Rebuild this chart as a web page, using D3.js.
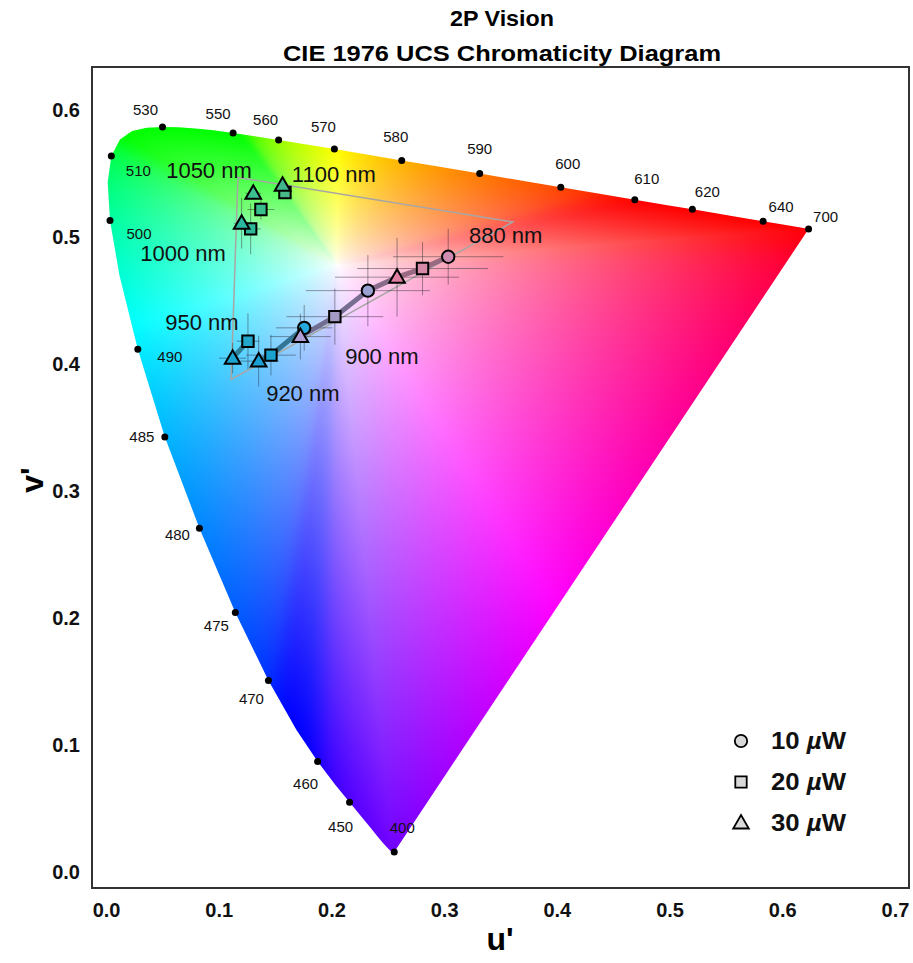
<!DOCTYPE html>
<html><head><meta charset="utf-8">
<script src="https://cdn.jsdelivr.net/npm/d3@7"></script>
<style>
body{margin:0;background:#fff;}
svg{display:block;font-family:"Liberation Sans",Arial,Helvetica,sans-serif;}
</style>
</head><body>
<svg id="chart" width="913" height="963"></svg>
<script>
// ---------- CIE 1931 2-degree spectral locus (chromaticity x, y) ----------
const locusNm = [400,405,410,415,420,425,430,435,440,445,450,455,460,465,470,475,480,485,490,495,500,505,510,515,520,525,530,535,540,545,550,555,560,565,570,575,580,585,590,595,600,605,610,615,620,625,630,635,640,645,650,660,670,680,690,700];
const locusX = [0.1733,0.1730,0.1726,0.1721,0.1714,0.1703,0.1689,0.1669,0.1644,0.1611,0.1566,0.1510,0.1440,0.1355,0.1241,0.1096,0.0913,0.0687,0.0454,0.0235,0.0082,0.0039,0.0139,0.0389,0.0743,0.1142,0.1547,0.1929,0.2296,0.2658,0.3016,0.3373,0.3731,0.4087,0.4441,0.4788,0.5125,0.5448,0.5752,0.6029,0.6270,0.6482,0.6658,0.6801,0.6915,0.7006,0.7079,0.7140,0.7190,0.7228,0.7260,0.7300,0.7320,0.7334,0.7341,0.7347];
const locusY = [0.0048,0.0048,0.0048,0.0048,0.0051,0.0058,0.0069,0.0086,0.0109,0.0138,0.0177,0.0227,0.0297,0.0399,0.0578,0.0868,0.1327,0.2007,0.2950,0.4127,0.5384,0.6548,0.7502,0.8120,0.8338,0.8262,0.8059,0.7816,0.7543,0.7243,0.6923,0.6589,0.6245,0.5896,0.5547,0.5202,0.4866,0.4544,0.4242,0.3965,0.3725,0.3514,0.3340,0.3197,0.3083,0.2993,0.2920,0.2859,0.2809,0.2772,0.2740,0.2700,0.2680,0.2666,0.2659,0.2653];

// wavelengths marked with a dot and label on the locus
const markedNm = [400,450,460,470,475,480,485,490,500,510,530,550,560,570,580,590,600,610,620,640,700];

// ---------- measured chromaticities (u', v') ----------
const sampleNm = [880, 900, 920, 950, 1000, 1050, 1100];
const powerLabels = ["10", "20", "30"];

const u10  = [0.3036, 0.2323, 0.1758, null, null, null, null];
const v10  = [0.4846, 0.4579, 0.4286, null, null, null, null];
const eu10 = [0.049, 0.055, 0.025, null, null, null, null];
const ev10 = [0.022, 0.028, 0.018, null, null, null, null];

const u20  = [0.2808, 0.2030, 0.1463, 0.1259, 0.1283, 0.1374, 0.1587];
const v20  = [0.4753, 0.4374, 0.4071, 0.4181, 0.5065, 0.5218, 0.5352];
const eu20 = [0.058, 0.043, 0.022, 0.010, 0.009, 0.012, 0.004];
const ev20 = [0.021, 0.022, 0.016, 0.022, 0.020, 0.008, 0.004];

const u30  = [0.2582, 0.1724, 0.1354, 0.1123, 0.1203, 0.1306, 0.1566];
const v30  = [0.4685, 0.4217, 0.4024, 0.4047, 0.5110, 0.5346, 0.5409];
const eu30 = [0.055, 0.027, 0.018, 0.012, 0.007, 0.007, 0.004];
const ev30 = [0.031, 0.018, 0.020, 0.012, 0.020, 0.005, 0.004];

// gamut triangle vertices (u', v')
const gamutU = [0.117, 0.361, 0.111];
const gamutV = [0.547, 0.512, 0.388];

// connecting line order: [sample index, power index]
const linkA = [[0,0],[0,1],[0,2],[1,0],[1,1],[1,2],[2,0],[2,1],[2,2]];
const linkB = [[3,2],[3,1]];

// ---------- styles / layout ----------
const markerFill = [
  ["#d08cb0", "#d78aa8", "#e07ea4"],
  ["#9aa0d0", "#a39bc4", "#b0a0d8"],
  ["#27a8dc", "#1aa3cf", "#1aa0d4"],
  [null,      "#22a8cc", "#1aa6d0"],
  [null,      "#2eb89a", "#2ab8a0"],
  [null,      "#38be8c", "#3cc090"],
  [null,      "#48b888", "#40b68c"]
];
const lineColor = ["#92647e", "#6c6688", "#2c6e8c", "#2a7890"];
const labelOffset = {400:[8,-24],450:[-9,24],460:[-12,22],470:[-17,18],475:[-19,13],480:[-22,6],485:[-23,0],490:[32,7],500:[29,13],510:[27,14],530:[-17,-17],550:[-15,-19],560:[-13,-20],570:[-11,-23],580:[-6,-24],590:[0,-25],600:[7,-24],610:[12,-21],620:[15,-18],640:[18,-15],700:[17,-12]};
const nmLabelPos = [[0.3546,0.5016],[0.2447,0.4063],[0.1746,0.3772],[0.0851,0.4331],[0.0683,0.4874],[0.0913,0.5528],[0.2021,0.5496]];
const whiteUV = [0.205, 0.478];

const frame = {left: 92, right: 909, top: 67, bottom: 888};
const svg = d3.select("#chart");
const x = d3.scaleLinear().domain([-0.0125, 0.7125]).range([frame.left, frame.right]);
const y = d3.scaleLinear().domain([-0.0125, 0.634]).range([frame.bottom, frame.top]);

function toUV(cx, cy) {
  const d = -2 * cx + 12 * cy + 3;
  return [4 * cx / d, 9 * cy / d];
}
const locusUV = locusNm.map((n, i) => toUV(locusX[i], locusY[i]));
const locusPx = locusUV.map(p => [x(p[0]), y(p[1])]);

// ---------- colour fill ----------
const gam = c => c <= 0.0031308 ? 12.92 * c : 1.055 * Math.pow(c, 1 / 2.4) - 0.055;
function physColor(u, v) {
  const vv = Math.max(v, 0.002);
  const d = 6 * u - 16 * vv + 12;
  const cx = 9 * u / d, cy = 4 * vv / d;
  const X = cx / cy, Y = 1, Z = (1 - cx - cy) / cy;
  let r = Math.max(3.2406 * X - 1.5372 * Y - 0.4986 * Z, 0);
  let g = Math.max(-0.9689 * X + 1.8758 * Y + 0.0415 * Z, 0);
  let b = Math.max(0.0557 * X - 0.2040 * Y + 1.0570 * Z, 0);
  const m = Math.max(r, g, b) || 1;
  return [255 * gam(r / m), 255 * gam(g / m), 255 * gam(b / m)];
}
const NA = 2880;
const Rtab = new Float64Array(NA);
const rawE = [];
const ring = locusUV.concat([locusUV[0]]);
for (let a = 0; a < NA; a++) {
  const th = 2 * Math.PI * a / NA, dx = Math.cos(th), dy = Math.sin(th);
  let best = Infinity;
  for (let k = 0; k < ring.length - 1; k++) {
    const P = ring[k], Q = ring[k + 1];
    const ex = Q[0] - P[0], ey = Q[1] - P[1];
    const den = dx * ey - dy * ex;
    if (Math.abs(den) < 1e-12) continue;
    const wx = P[0] - whiteUV[0], wy = P[1] - whiteUV[1];
    const r = (wx * ey - wy * ex) / den;
    const s = (wx * dy - wy * dx) / den;
    if (r > 0 && s >= -1e-9 && s <= 1 + 1e-9 && r < best) best = r;
  }
  Rtab[a] = best;
  rawE.push(physColor(whiteUV[0] + 0.995 * best * dx, whiteUV[1] + 0.995 * best * dy));
}
// smooth edge colours over angle
const win = 14;
const Etab = rawE.map((_, a) => {
  const acc = [0, 0, 0];
  for (let k = -win; k <= win; k++) {
    const e = rawE[(a + k + NA) % NA];
    acc[0] += e[0]; acc[1] += e[1]; acc[2] += e[2];
  }
  return acc.map(c => c / (2 * win + 1));
});

const fw = frame.right - frame.left, fh = frame.bottom - frame.top;
const canvas = document.createElement("canvas");
canvas.width = fw; canvas.height = fh;
const ctx = canvas.getContext("2d");
const im = ctx.createImageData(fw, fh);
const expo = 0.75;
for (let j = 0; j < fh; j++) {
  const v = y.invert(frame.top + j + 0.5);
  for (let i = 0; i < fw; i++) {
    const u = x.invert(frame.left + i + 0.5);
    const k = (j * fw + i) * 4;
    const dx = u - whiteUV[0], dy = v - whiteUV[1];
    let th = Math.atan2(dy, dx); if (th < 0) th += 2 * Math.PI;
    const af = th / (2 * Math.PI) * NA;
    const a0 = Math.floor(af) % NA, a1 = (a0 + 1) % NA, f = af - Math.floor(af);
    const R = Rtab[a0] * (1 - f) + Rtab[a1] * f;
    const t = Math.min(Math.hypot(dx, dy) / R, 1);
    const s = Math.pow(t, expo);
    const E0 = Etab[a0], E1 = Etab[a1];
    for (let c = 0; c < 3; c++) {
      const E = E0[c] * (1 - f) + E1[c] * f;
      im.data[k + c] = Math.round(255 + (E - 255) * s);
    }
    im.data[k + 3] = 255;
  }
}
ctx.putImageData(im, 0, 0);

const defs = svg.append("defs");
defs.append("clipPath").attr("id", "locusClip")
  .append("path").attr("d", d3.line()(locusPx) + "Z");

svg.append("image")
  .attr("x", frame.left).attr("y", frame.top)
  .attr("width", fw).attr("height", fh)
  .attr("preserveAspectRatio", "none")
  .attr("href", canvas.toDataURL())
  .attr("clip-path", "url(#locusClip)");

// frame
svg.append("rect")
  .attr("x", frame.left).attr("y", frame.top)
  .attr("width", fw).attr("height", fh)
  .attr("fill", "none").attr("stroke", "#333").attr("stroke-width", 2);

// titles
svg.append("text").attr("x", 502).attr("y", 26).attr("text-anchor", "middle")
  .attr("font-weight", "bold").attr("font-size", 22)
  .attr("textLength", 104).attr("lengthAdjust", "spacingAndGlyphs").text("2P Vision");
svg.append("text").attr("x", 502).attr("y", 61).attr("text-anchor", "middle")
  .attr("font-weight", "bold").attr("font-size", 22)
  .attr("textLength", 438).attr("lengthAdjust", "spacingAndGlyphs").text("CIE 1976 UCS Chromaticity Diagram");

// axes
const xAxis = d3.axisBottom(x).tickValues([0,0.1,0.2,0.3,0.4,0.5,0.6,0.7]).tickFormat(d3.format(".1f")).tickSize(0).tickPadding(15);
const yAxis = d3.axisLeft(y).tickValues([0,0.1,0.2,0.3,0.4,0.5,0.6]).tickFormat(d3.format(".1f")).tickSize(0).tickPadding(12);
const gx = svg.append("g").attr("transform", `translate(0,${frame.bottom})`).call(xAxis);
const gy = svg.append("g").attr("transform", `translate(${frame.left},0)`).call(yAxis);
[gx, gy].forEach(g => {
  g.select(".domain").remove();
  g.selectAll("text").attr("font-size", 20).attr("font-weight", "bold")
    .attr("fill", "#111").attr("font-family", "'Liberation Sans',Arial,sans-serif");
});
svg.append("text").attr("x", 500).attr("y", 950).attr("text-anchor", "middle")
  .attr("font-weight", "bold").attr("font-size", 32).text("u'");
svg.append("text").attr("transform", "translate(43,480) rotate(-90)").attr("text-anchor", "middle")
  .attr("font-weight", "bold").attr("font-size", 32).text("v'");

// locus marks
const marks = markedNm.map(n => ({n, p: locusUV[locusNm.indexOf(n)]}));
svg.append("g").selectAll("circle").data(marks).join("circle")
  .attr("cx", d => x(d.p[0])).attr("cy", d => y(d.p[1])).attr("r", 3.5).attr("fill", "#000");
svg.append("g").selectAll("text").data(marks).join("text")
  .attr("x", d => x(d.p[0]) + labelOffset[d.n][0])
  .attr("y", d => y(d.p[1]) + labelOffset[d.n][1])
  .attr("text-anchor", "middle").attr("dominant-baseline", "central")
  .attr("font-size", 15).attr("fill", "#111").text(d => d.n);

// gamut triangle
svg.append("path")
  .attr("d", d3.line()(gamutU.map((u, i) => [x(u), y(gamutV[i])])) + "Z")
  .attr("fill", "none").attr("stroke", "#a8a6a4").attr("stroke-width", 1.5);

// sample points
const series = [
  {u: u10, v: v10, eu: eu10, ev: ev10, sym: d3.symbolCircle, size: 120},
  {u: u20, v: v20, eu: eu20, ev: ev20, sym: d3.symbolSquare, size: 130},
  {u: u30, v: v30, eu: eu30, ev: ev30, sym: d3.symbolTriangle, size: 105}
];
const pts = [];
series.forEach((s, pi) => sampleNm.forEach((n, si) => {
  if (s.u[si] != null) pts.push({si, pi, u: s.u[si], v: s.v[si], eu: s.eu[si], ev: s.ev[si]});
}));

// error bars
const eb = svg.append("g").attr("stroke", "rgba(40,40,50,0.45)").attr("stroke-width", 1);
pts.forEach(p => {
  eb.append("line").attr("x1", x(p.u - p.eu)).attr("x2", x(p.u + p.eu)).attr("y1", y(p.v)).attr("y2", y(p.v));
  eb.append("line").attr("x1", x(p.u)).attr("x2", x(p.u)).attr("y1", y(p.v - p.ev)).attr("y2", y(p.v + p.ev));
});

// connecting lines
function ptOf(si, pi) { const s = series[pi]; return [x(s.u[si]), y(s.v[si])]; }
const lg = svg.append("g").attr("fill", "none").attr("stroke-width", 5).attr("stroke-linecap", "round").attr("opacity", 0.92);
[linkA, linkB].forEach(link => {
  for (let k = 0; k < link.length - 1; k++) {
    const a = link[k], b = link[k + 1];
    const c = d3.interpolateRgb(lineColor[a[0]], lineColor[b[0]])(0.5);
    lg.append("path").attr("d", d3.line()([ptOf(a[0], a[1]), ptOf(b[0], b[1])]))
      .attr("stroke", c);
  }
});

// markers
svg.append("g").selectAll("path").data(pts).join("path")
  .attr("transform", p => `translate(${x(p.u)},${y(p.v) + (p.pi === 2 ? 1 : 0)})`)
  .attr("d", p => d3.symbol(series[p.pi].sym, series[p.pi].size)())
  .attr("fill", p => markerFill[p.si][p.pi])
  .attr("stroke", "#000").attr("stroke-width", 2).attr("stroke-linejoin", "miter");

// wavelength annotations
svg.append("g").selectAll("text").data(sampleNm).join("text")
  .attr("x", (n, i) => x(nmLabelPos[i][0])).attr("y", (n, i) => y(nmLabelPos[i][1]))
  .attr("text-anchor", "middle").attr("dominant-baseline", "central")
  .attr("font-size", 22).attr("fill", "#111").text(n => n + " nm");

// legend
const lgd = svg.append("g");
series.forEach((s, i) => {
  const cy = 741 + i * 41;
  lgd.append("path").attr("transform", `translate(741,${cy + (i === 2 ? 1 : 0)})`)
    .attr("d", d3.symbol(s.sym, s.size)())
    .attr("fill", "#d9d9d9").attr("stroke", "#000").attr("stroke-width", 1.8);
  const t = lgd.append("text").attr("x", 771).attr("y", cy).attr("dominant-baseline", "central")
    .attr("font-size", 23).attr("font-weight", "bold").attr("fill", "#111")
    .attr("textLength", 75).attr("lengthAdjust", "spacingAndGlyphs");
  t.append("tspan").text(powerLabels[i] + " ");
  t.append("tspan").attr("font-style", "italic").text("µ");
  t.append("tspan").text("W");
});
</script>
</body></html>
